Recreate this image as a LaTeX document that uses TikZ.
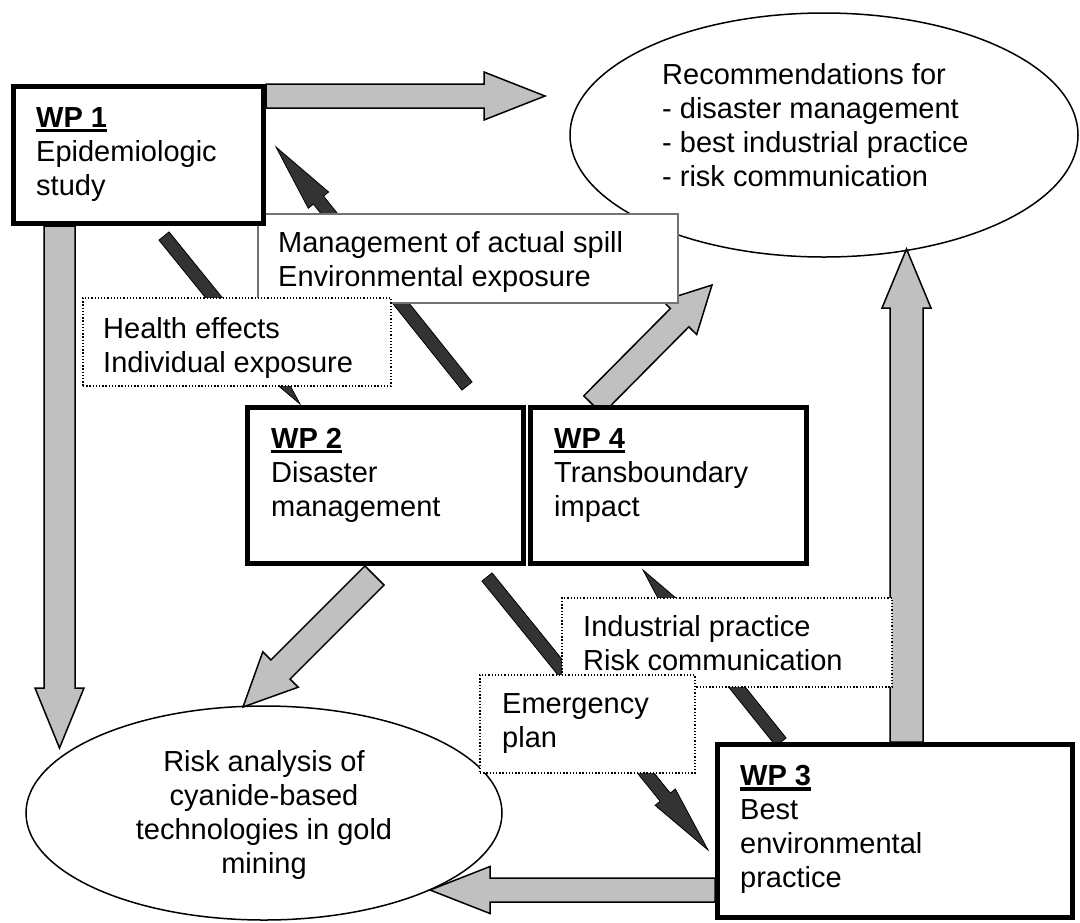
\documentclass[tikz,border=0pt]{standalone}
\usepackage{fontspec}
\setmainfont{Liberation Sans}
\usetikzlibrary{calc,shapes.geometric}
\definecolor{arrgray}{HTML}{C0C0C0}
\definecolor{arrdark}{HTML}{333333}
\newcommand{\dfont}{\fontsize{29}{34}\selectfont}
\newcommand{\wpul}[1]{\leavevmode\vtop{\hbox{\bfseries #1}\kern1.6pt\hrule height 3.2pt}}
\newcommand{\wparrow}[6]{%
  \coordinate (hb) at ($(#3)!#6!(#2)$);
  \draw[#1] ($(#2)!#4!90:(#3)$) -- ($(hb)!#4!90:(#3)$) -- ($(hb)!#5!90:(#3)$) -- (#3)
    -- ($(hb)!#5!-90:(#3)$) -- ($(hb)!#4!-90:(#3)$) -- ($(#2)!#4!-90:(#3)$) -- cycle;
}
\tikzset{
  garrow/.style={fill=arrgray, draw=black, line width=1.5pt, line join=miter},
  darrow/.style={fill=arrdark, draw=black, line width=0.8pt, line join=miter},
  wpbox/.style={rectangle, draw=black, line width=5pt, fill=white, inner sep=0pt, outer sep=0pt},
  solidlbl/.style={rectangle, draw=black!55, line width=1.3pt, fill=white, inner sep=0pt, outer sep=0pt},
  dotlbl/.style={rectangle, draw=black, line width=1.2pt, dash pattern=on 1.3pt off 1.9pt, fill=white, inner sep=0pt, outer sep=0pt},
  oval/.style={ellipse, draw=black, line width=1.5pt, fill=white, inner sep=0pt, outer sep=0pt},
  txt/.style={font=\dfont, align=left, inner sep=0pt, anchor=north west},
}
\begin{document}
\begin{tikzpicture}[x=1pt,y=-1pt]
\path[use as bounding box, fill=white] (0,0) rectangle (1080,922);

% ellipses
\node[oval, minimum width=508pt, minimum height=244pt] (rec) at (824,135) {};
\node[oval, minimum width=476pt, minimum height=214pt] (risk) at (264,813) {};

% arrow end points
\coordinate (g1s) at (266,96);   \coordinate (g1t) at (545,96);
\coordinate (g2s) at (59.5,226); \coordinate (g2t) at (59.5,748);
\coordinate (g3s) at (374.5,575.5); \coordinate (g3t) at (243,707);
\coordinate (g4s) at (593,405);  \coordinate (g4t) at (712,285);
\coordinate (g5s) at (906.5,742); \coordinate (g5t) at (906.5,249);
\coordinate (g6s) at (715,890);  \coordinate (g6t) at (430,890);
\coordinate (d1s) at (467,386);  \coordinate (d1t) at (276,147);
\coordinate (d2s) at (164,236);  \coordinate (d2t) at (300,404);
\coordinate (d3s) at (487,577);  \coordinate (d3t) at (708,850);
\coordinate (d4s) at (781,742);  \coordinate (d4t) at (643,570);

% gray arrows
\wparrow{garrow}{g1s}{g1t}{12pt}{24pt}{61pt}
\wparrow{garrow}{g2s}{g2t}{15.5pt}{24.5pt}{60pt}
\wparrow{garrow}{g3s}{g3t}{13.5pt}{25pt}{53pt}
\wparrow{garrow}{g4s}{g4t}{13pt}{24pt}{46pt}
\wparrow{garrow}{g5s}{g5t}{16.5pt}{24.5pt}{59pt}
\wparrow{garrow}{g6s}{g6t}{12pt}{23.5pt}{60pt}

% dark arrows
\wparrow{darrow}{d1s}{d1t}{6.5pt}{13pt}{68pt}
\wparrow{darrow}{d2s}{d2t}{6.5pt}{13pt}{68pt}
\wparrow{darrow}{d3s}{d3t}{6.5pt}{13pt}{68pt}
\wparrow{darrow}{d4s}{d4t}{6.5pt}{13pt}{68pt}

% label boxes and work packages
\node[solidlbl, minimum width=420pt, minimum height=89pt] (mgmt) at (468,258.5) {};
\node[wpbox, minimum width=250pt, minimum height=137pt] (wp1) at (138.5,155) {};
\node[dotlbl, minimum width=308pt, minimum height=88pt] (health) at (237,342) {};
\node[wpbox, minimum width=276pt, minimum height=156pt] (wp2) at (385.5,485.5) {};
\node[wpbox, minimum width=276pt, minimum height=156pt] (wp4) at (668.5,485.5) {};
\node[dotlbl, minimum width=330pt, minimum height=89pt] (indus) at (727,642.5) {};
\node[dotlbl, minimum width=215pt, minimum height=98pt] (emerg) at (587.5,724) {};
\node[wpbox, minimum width=355pt, minimum height=173pt] (wp3) at (895,831) {};

% texts
\node[txt] (rectext) at (662,63) {Recommendations for\\- disaster management\\- best industrial practice\\- risk communication};
\node[txt, anchor=center, align=center] (risktext) at (264,815) {Risk analysis of\\cyanide-based\\technologies in gold\\mining};
\node[txt] (wp1text) at (36,107) {\wpul{WP 1}\\Epidemiologic\\study};
\node[txt] (wp2text) at (271,428) {\wpul{WP 2}\\Disaster\\management};
\node[txt] (wp4text) at (554,428) {\wpul{WP 4}\\Transboundary\\impact};
\node[txt] (wp3text) at (740,765) {\wpul{WP 3}\\Best\\environmental\\practice};
\node[txt] (mgmttext) at (278,231) {Management of actual spill\\Environmental exposure};
\node[txt] (healthtext) at (103,317) {Health effects\\Individual exposure};
\node[txt] (industext) at (583,615) {Industrial practice\\Risk communication};
\node[txt] (emergtext) at (502,693) {Emergency\\plan};
\end{tikzpicture}
\end{document}
